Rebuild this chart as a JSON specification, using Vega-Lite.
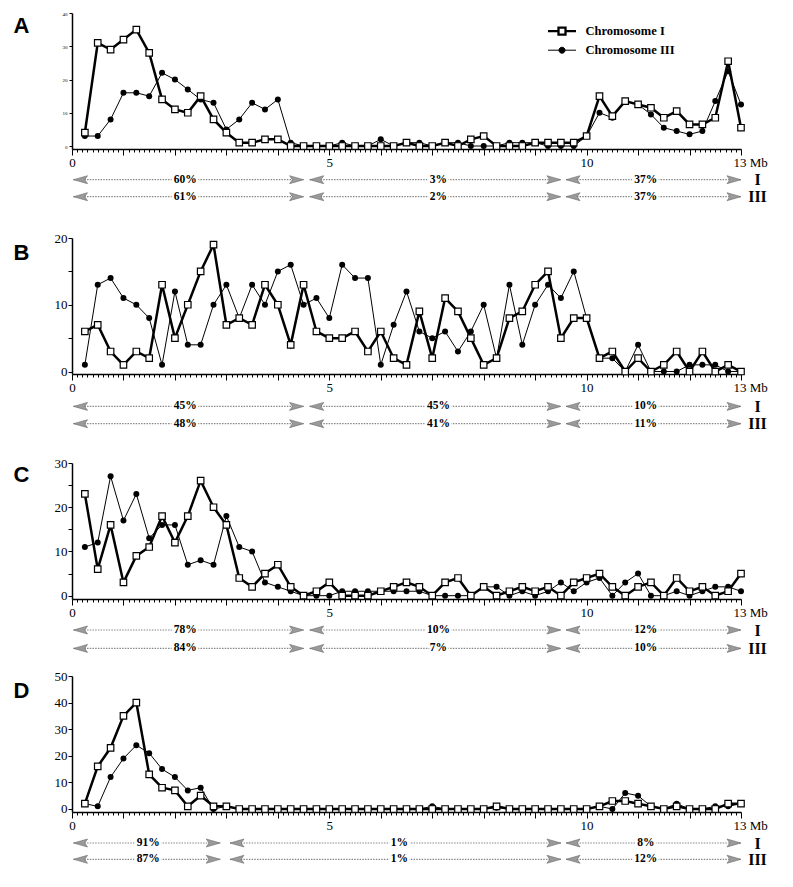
{
"$schema":"https://vega.github.io/schema/vega-lite/v6.json",
"background":"white",
"padding":{"left":13,"top":11,"right":5,"bottom":5},
"spacing":13,
"config":{"view":{"stroke":null},"axis":{"domainColor":"black","domainWidth":1.5,"tickColor":"black","labelColor":"black","grid":false,"labelFont":"Liberation Serif","titleColor":"black"}},
"resolve":{"scale":{"shape":"independent","fill":"independent","strokeWidth":"independent"},"legend":{"shape":"independent","fill":"independent","strokeWidth":"independent"}},
"datasets":{
"A":[{"mb":0.25,"I":4,"III":3},{"mb":0.5,"I":31,"III":3},{"mb":0.75,"I":29,"III":8},{"mb":1,"I":32,"III":16},{"mb":1.25,"I":35,"III":16},{"mb":1.5,"I":28,"III":15},{"mb":1.75,"I":14,"III":22},{"mb":2,"I":11,"III":20},{"mb":2.25,"I":10,"III":17},{"mb":2.5,"I":15,"III":14},{"mb":2.75,"I":8,"III":13},{"mb":3,"I":4,"III":5},{"mb":3.25,"I":1,"III":8},{"mb":3.5,"I":1,"III":13},{"mb":3.75,"I":2,"III":11},{"mb":4,"I":2,"III":14},{"mb":4.25,"I":0,"III":1},{"mb":4.5,"I":0,"III":0},{"mb":4.75,"I":0,"III":0},{"mb":5,"I":0,"III":0},{"mb":5.25,"I":0,"III":1},{"mb":5.5,"I":0,"III":0},{"mb":5.75,"I":0,"III":0},{"mb":6,"I":0,"III":2},{"mb":6.25,"I":0,"III":0},{"mb":6.5,"I":1,"III":1},{"mb":6.75,"I":0,"III":1},{"mb":7,"I":0,"III":0},{"mb":7.25,"I":1,"III":1},{"mb":7.5,"I":0,"III":1},{"mb":7.75,"I":2,"III":0},{"mb":8,"I":3,"III":0},{"mb":8.25,"I":0,"III":0},{"mb":8.5,"I":0,"III":1},{"mb":8.75,"I":0,"III":1},{"mb":9,"I":1,"III":1},{"mb":9.25,"I":1,"III":0},{"mb":9.5,"I":1,"III":0},{"mb":9.75,"I":1,"III":0},{"mb":10,"I":3,"III":3},{"mb":10.25,"I":15,"III":10},{"mb":10.5,"I":9,"III":8.5},{"mb":10.75,"I":13.5,"III":13.5},{"mb":11,"I":12.5,"III":12.5},{"mb":11.25,"I":11.5,"III":9.5},{"mb":11.5,"I":8.5,"III":5.5},{"mb":11.75,"I":10.5,"III":4.5},{"mb":12,"I":6.5,"III":3.5},{"mb":12.25,"I":6.5,"III":4.5},{"mb":12.5,"I":8.5,"III":13.5},{"mb":12.75,"I":25.5,"III":22.5},{"mb":13,"I":5.5,"III":12.5}],
"B":[{"mb":0.25,"I":6,"III":1},{"mb":0.5,"I":7,"III":13},{"mb":0.75,"I":3,"III":14},{"mb":1,"I":1,"III":11},{"mb":1.25,"I":3,"III":10},{"mb":1.5,"I":2,"III":8},{"mb":1.75,"I":13,"III":1},{"mb":2,"I":5,"III":12},{"mb":2.25,"I":10,"III":4},{"mb":2.5,"I":15,"III":4},{"mb":2.75,"I":19,"III":10},{"mb":3,"I":7,"III":13},{"mb":3.25,"I":8,"III":8},{"mb":3.5,"I":7,"III":13},{"mb":3.75,"I":13,"III":10},{"mb":4,"I":10,"III":15},{"mb":4.25,"I":4,"III":16},{"mb":4.5,"I":13,"III":10},{"mb":4.75,"I":6,"III":11},{"mb":5,"I":5,"III":8},{"mb":5.25,"I":5,"III":16},{"mb":5.5,"I":6,"III":14},{"mb":5.75,"I":3,"III":14},{"mb":6,"I":6,"III":1},{"mb":6.25,"I":2,"III":7},{"mb":6.5,"I":1,"III":12},{"mb":6.75,"I":9,"III":6},{"mb":7,"I":2,"III":5},{"mb":7.25,"I":11,"III":6},{"mb":7.5,"I":9,"III":3},{"mb":7.75,"I":5,"III":6},{"mb":8,"I":1,"III":10},{"mb":8.25,"I":2,"III":2},{"mb":8.5,"I":8,"III":13},{"mb":8.75,"I":9,"III":4},{"mb":9,"I":13,"III":10},{"mb":9.25,"I":15,"III":13},{"mb":9.5,"I":5,"III":11},{"mb":9.75,"I":8,"III":15},{"mb":10,"I":8,"III":8},{"mb":10.25,"I":2,"III":2},{"mb":10.5,"I":3,"III":2},{"mb":10.75,"I":0,"III":0},{"mb":11,"I":2,"III":4},{"mb":11.25,"I":0,"III":0},{"mb":11.5,"I":1,"III":0},{"mb":11.75,"I":3,"III":0},{"mb":12,"I":0,"III":1},{"mb":12.25,"I":3,"III":1},{"mb":12.5,"I":0,"III":1},{"mb":12.75,"I":1,"III":0},{"mb":13,"I":0,"III":0}],
"C":[{"mb":0.25,"I":23,"III":11},{"mb":0.5,"I":6,"III":12},{"mb":0.75,"I":16,"III":27},{"mb":1,"I":3,"III":17},{"mb":1.25,"I":9,"III":23},{"mb":1.5,"I":11,"III":13},{"mb":1.75,"I":18,"III":16},{"mb":2,"I":12,"III":16},{"mb":2.25,"I":18,"III":7},{"mb":2.5,"I":26,"III":8},{"mb":2.75,"I":20,"III":7},{"mb":3,"I":16,"III":18},{"mb":3.25,"I":4,"III":11},{"mb":3.5,"I":2,"III":10},{"mb":3.75,"I":5,"III":3},{"mb":4,"I":7,"III":2},{"mb":4.25,"I":2,"III":1},{"mb":4.5,"I":0,"III":0},{"mb":4.75,"I":1,"III":0},{"mb":5,"I":3,"III":0},{"mb":5.25,"I":0,"III":1},{"mb":5.5,"I":0,"III":1},{"mb":5.75,"I":0,"III":1},{"mb":6,"I":1,"III":1},{"mb":6.25,"I":2,"III":1},{"mb":6.5,"I":3,"III":1},{"mb":6.75,"I":2,"III":1},{"mb":7,"I":0,"III":0},{"mb":7.25,"I":3,"III":0},{"mb":7.5,"I":4,"III":0},{"mb":7.75,"I":0,"III":0},{"mb":8,"I":2,"III":2},{"mb":8.25,"I":0,"III":2},{"mb":8.5,"I":1,"III":0},{"mb":8.75,"I":2,"III":1},{"mb":9,"I":1,"III":0},{"mb":9.25,"I":2,"III":1},{"mb":9.5,"I":0,"III":3},{"mb":9.75,"I":3,"III":1},{"mb":10,"I":4,"III":3},{"mb":10.25,"I":5,"III":4},{"mb":10.5,"I":2,"III":0},{"mb":10.75,"I":0,"III":3},{"mb":11,"I":2,"III":5},{"mb":11.25,"I":3,"III":0},{"mb":11.5,"I":0,"III":0},{"mb":11.75,"I":4,"III":1},{"mb":12,"I":1,"III":0},{"mb":12.25,"I":2,"III":1},{"mb":12.5,"I":0,"III":2},{"mb":12.75,"I":1,"III":2},{"mb":13,"I":5,"III":1}],
"D":[{"mb":0.25,"I":2,"III":2},{"mb":0.5,"I":16,"III":1},{"mb":0.75,"I":23,"III":12},{"mb":1,"I":35,"III":19},{"mb":1.25,"I":40,"III":24},{"mb":1.5,"I":13,"III":21},{"mb":1.75,"I":8,"III":15},{"mb":2,"I":7,"III":12},{"mb":2.25,"I":1,"III":7},{"mb":2.5,"I":5,"III":8},{"mb":2.75,"I":1,"III":0},{"mb":3,"I":1,"III":1},{"mb":3.25,"I":0,"III":0},{"mb":3.5,"I":0,"III":0},{"mb":3.75,"I":0,"III":0},{"mb":4,"I":0,"III":0},{"mb":4.25,"I":0,"III":0},{"mb":4.5,"I":0,"III":0},{"mb":4.75,"I":0,"III":0},{"mb":5,"I":0,"III":0},{"mb":5.25,"I":0,"III":0},{"mb":5.5,"I":0,"III":0},{"mb":5.75,"I":0,"III":0},{"mb":6,"I":0,"III":0},{"mb":6.25,"I":0,"III":0},{"mb":6.5,"I":0,"III":0},{"mb":6.75,"I":0,"III":0},{"mb":7,"I":0,"III":1},{"mb":7.25,"I":0,"III":0},{"mb":7.5,"I":0,"III":0},{"mb":7.75,"I":0,"III":0},{"mb":8,"I":0,"III":0},{"mb":8.25,"I":1,"III":0.5},{"mb":8.5,"I":0,"III":0},{"mb":8.75,"I":0,"III":0},{"mb":9,"I":0,"III":0},{"mb":9.25,"I":0,"III":0},{"mb":9.5,"I":0,"III":0},{"mb":9.75,"I":0,"III":0},{"mb":10,"I":0,"III":0},{"mb":10.25,"I":1,"III":1},{"mb":10.5,"I":3,"III":0},{"mb":10.75,"I":3,"III":6},{"mb":11,"I":2,"III":5},{"mb":11.25,"I":1,"III":1},{"mb":11.5,"I":0,"III":0},{"mb":11.75,"I":1,"III":2},{"mb":12,"I":0,"III":0},{"mb":12.25,"I":0,"III":0},{"mb":12.5,"I":0,"III":1},{"mb":12.75,"I":2,"III":1},{"mb":13,"I":2,"III":2}],
"arrows":[
{"panel":"A","row":"I","start":0.03,"end":4.5,"mid":2.2,"pct":"60%"},{"panel":"A","row":"I","start":4.62,"end":9.5,"mid":7.12,"pct":"3%"},{"panel":"A","row":"I","start":9.6,"end":13,"mid":11.15,"pct":"37%"},
{"panel":"A","row":"III","start":0.03,"end":4.5,"mid":2.2,"pct":"61%"},{"panel":"A","row":"III","start":4.62,"end":9.5,"mid":7.12,"pct":"2%"},{"panel":"A","row":"III","start":9.6,"end":13,"mid":11.15,"pct":"37%"},
{"panel":"B","row":"I","start":0.03,"end":4.5,"mid":2.2,"pct":"45%"},{"panel":"B","row":"I","start":4.62,"end":9.5,"mid":7.12,"pct":"45%"},{"panel":"B","row":"I","start":9.6,"end":13,"mid":11.15,"pct":"10%"},
{"panel":"B","row":"III","start":0.03,"end":4.5,"mid":2.2,"pct":"48%"},{"panel":"B","row":"III","start":4.62,"end":9.5,"mid":7.12,"pct":"41%"},{"panel":"B","row":"III","start":9.6,"end":13,"mid":11.15,"pct":"11%"},
{"panel":"C","row":"I","start":0.03,"end":4.5,"mid":2.2,"pct":"78%"},{"panel":"C","row":"I","start":4.62,"end":9.5,"mid":7.12,"pct":"10%"},{"panel":"C","row":"I","start":9.6,"end":13,"mid":11.15,"pct":"12%"},
{"panel":"C","row":"III","start":0.03,"end":4.5,"mid":2.2,"pct":"84%"},{"panel":"C","row":"III","start":4.62,"end":9.5,"mid":7.12,"pct":"7%"},{"panel":"C","row":"III","start":9.6,"end":13,"mid":11.15,"pct":"10%"},
{"panel":"D","row":"I","start":0.03,"end":2.88,"mid":1.48,"pct":"91%"},{"panel":"D","row":"I","start":3.07,"end":9.5,"mid":6.36,"pct":"1%"},{"panel":"D","row":"I","start":9.6,"end":13,"mid":11.15,"pct":"8%"},
{"panel":"D","row":"III","start":0.03,"end":2.88,"mid":1.48,"pct":"87%"},{"panel":"D","row":"III","start":3.07,"end":9.5,"mid":6.36,"pct":"1%"},{"panel":"D","row":"III","start":9.6,"end":13,"mid":11.15,"pct":"12%"}
]
},
"vconcat":[
{"spacing":0,
"resolve":{"scale":{"shape":"independent","fill":"independent","strokeWidth":"independent"},"legend":{"shape":"independent","fill":"independent","strokeWidth":"independent"}},
"vconcat":[
{
"width":669,"height":136,
"encoding":{
"x":{"field":"mb","type":"quantitative","scale":{"domain":[0,13],"nice":false,"zero":false},"axis":{"title":null,"domain":true,"domainColor":"black","domainWidth":1.5,"ticks":true,"tickColor":"black","tickWidth":1,"labelColor":"black","values":[0,0.1,0.2,0.3,0.4,0.5,0.6,0.7,0.8,0.9,1,1.1,1.2,1.3,1.4,1.5,1.6,1.7,1.8,1.9,2,2.1,2.2,2.3,2.4,2.5,2.6,2.7,2.8,2.9,3,3.1,3.2,3.3,3.4,3.5,3.6,3.7,3.8,3.9,4,4.1,4.2,4.3,4.4,4.5,4.6,4.7,4.8,4.9,5,5.1,5.2,5.3,5.4,5.5,5.6,5.7,5.8,5.9,6,6.1,6.2,6.3,6.4,6.5,6.6,6.7,6.8,6.9,7,7.1,7.2,7.3,7.4,7.5,7.6,7.7,7.8,7.9,8,8.1,8.2,8.3,8.4,8.5,8.6,8.7,8.8,8.9,9,9.1,9.2,9.3,9.4,9.5,9.6,9.7,9.8,9.9,10,10.1,10.2,10.3,10.4,10.5,10.6,10.7,10.8,10.9,11,11.1,11.2,11.3,11.4,11.5,11.6,11.7,11.8,11.9,12,12.1,12.2,12.3,12.4,12.5,12.6,12.7,12.8,12.9,13],"labelExpr":"datum.value == 13 ? '13 Mb' : datum.value == 0 ? '0' : datum.value == 5 ? '5' : datum.value == 10 ? '10' : ''","labelFontSize":13,"labelFlush":false,"labelOverlap":false,"labelPadding":1.5,"labelAlign":{"condition":{"test":"datum.value == 13","value":"left"},"value":"center"},"labelOffset":{"condition":{"test":"datum.value == 13","value":-8},"value":0},"tickSize":{"condition":{"test":"datum.value % 1 == 0","value":6},"value":3}}},
"y":{"field":"value","type":"quantitative","scale":{"domain":[-0.9,40],"nice":false,"zero":false},"axis":{"domain":true,"domainColor":"black","domainWidth":1.5,"ticks":true,"tickColor":"black","labelColor":"black","values":[0,10,20,30,40],"labelFontSize":5,"tickSize":3,"labelPadding":2,"title":"A","titleAngle":0,"titleFont":"Liberation Sans","titleFontWeight":"bold","titleFontSize":22,"titleAlign":"left","titleBaseline":"alphabetic","titleX":-59,"titleY":19}}
},
"layer":[
{"data":{"name":"A"},"transform":[{"fold":["I","III"],"as":["chrom","value"]},{"filter":"datum.chrom == 'III'"}],"mark":{"type":"line","color":"black","strokeWidth":1},"encoding":{}},
{"data":{"name":"A"},"transform":[{"fold":["I","III"],"as":["chrom","value"]},{"filter":"datum.chrom == 'III'"}],"mark":{"type":"point","shape":"circle","filled":true,"color":"black","size":36,"opacity":1},"encoding":{}},
{"data":{"name":"A"},"transform":[{"fold":["I","III"],"as":["chrom","value"]},{"filter":"datum.chrom == 'I'"}],"mark":{"type":"line","color":"black","strokeWidth":2.5},"encoding":{}},
{"data":{"name":"A"},"transform":[{"fold":["I","III"],"as":["chrom","value"]},{"filter":"datum.chrom == 'I'"}],"mark":{"type":"point","shape":"square","filled":true,"fill":"white","stroke":"black","strokeWidth":1.2,"size":42,"opacity":1},"encoding":{}},
{"data":{"values":[{"s":"Chromosome I"},{"s":"Chromosome III"}]},"mark":{"type":"point","opacity":0,"stroke":"black"},
"encoding":{
"x":{"value":0},"y":{"value":0},
"shape":{"field":"s","type":"nominal","scale":{"domain":["Chromosome I","Chromosome III"],"range":["M-2,0H-0.5M0.5,0H2M-0.5,-0.5H0.5V0.5H-0.5Z","M-2,0H2M-0.43,0A0.43,0.43,0,1,1,0.43,0A0.43,0.43,0,1,1,-0.43,0Z"]},"legend":{"title":null,"orient":"none","legendX":481.5,"legendY":9.7,"symbolSize":196,"symbolOpacity":1,"labelFont":"Liberation Serif","labelFontSize":12.5,"labelFontWeight":"bold","labelColor":"black","labelOffset":15,"rowPadding":3,"padding":0,"labelLimit":300}},
"fill":{"field":"s","type":"nominal","scale":{"domain":["Chromosome I","Chromosome III"],"range":["white","black"]},"legend":{"title":null,"orient":"none","legendX":481.5,"legendY":9.7,"symbolSize":196,"symbolOpacity":1,"labelFont":"Liberation Serif","labelFontSize":12.5,"labelFontWeight":"bold","labelColor":"black","labelOffset":15,"rowPadding":3,"padding":0,"labelLimit":300}},
"strokeWidth":{"field":"s","type":"ordinal","scale":{"domain":["Chromosome I","Chromosome III"],"range":[2.3,1]},"legend":{"title":null,"orient":"none","legendX":481.5,"legendY":9.7,"symbolSize":196,"symbolOpacity":1,"labelFont":"Liberation Serif","labelFontSize":12.5,"labelFontWeight":"bold","labelColor":"black","labelOffset":15,"rowPadding":3,"padding":0,"labelLimit":300}}
}}
]
},
{
"width":669,"height":48.5,
"data":{"name":"arrows"},
"transform":[{"filter":"datum.panel == 'A'"}],
"encoding":{"y":{"field":"row","type":"nominal","scale":{"type":"point","domain":["I","III"],"padding":0.926,"align":0.308},"axis":{"orient":"right","domain":false,"ticks":false,"labelColor":"black","labelFont":"Liberation Serif","labelFontWeight":"bold","labelFontSize":16,"labelAlign":"center","labelPadding":16,"title":null}}},
"layer":[
{"mark":{"type":"rule","color":"#888888","strokeDash":[1.5,1.2],"strokeWidth":1.2},"encoding":{"x":{"field":"start","type":"quantitative","scale":{"domain":[0,13],"nice":false,"zero":false},"axis":null},"x2":{"field":"end"}}},
{"mark":{"type":"point","shape":"M0,0L2,-0.57L1.6,0L2,0.57Z","filled":true,"fill":"#9a9a9a","stroke":"#6a6a6a","strokeWidth":0.6,"size":196,"opacity":1},"encoding":{"x":{"field":"start","type":"quantitative","axis":null}}},
{"mark":{"type":"point","shape":"M0,0L-2,-0.57L-1.6,0L-2,0.57Z","filled":true,"fill":"#9a9a9a","stroke":"#6a6a6a","strokeWidth":0.6,"size":196,"opacity":1},"encoding":{"x":{"field":"end","type":"quantitative","axis":null}}},
{"mark":{"type":"text","font":"Liberation Serif","fontWeight":"bold","fontSize":11.5,"fill":"white","stroke":"white","strokeWidth":5},"encoding":{"x":{"field":"mid","type":"quantitative","axis":null},"text":{"field":"pct"}}},
{"mark":{"type":"text","font":"Liberation Serif","fontWeight":"bold","fontSize":11.5,"color":"black"},"encoding":{"x":{"field":"mid","type":"quantitative","axis":null},"text":{"field":"pct"}}}
]
}
]},
{"spacing":0,
"vconcat":[
{
"width":669,"height":136,
"encoding":{
"x":{"field":"mb","type":"quantitative","scale":{"domain":[0,13],"nice":false,"zero":false},"axis":{"title":null,"domain":true,"domainColor":"black","domainWidth":1.5,"ticks":true,"tickColor":"black","tickWidth":1,"labelColor":"black","values":[0,0.1,0.2,0.3,0.4,0.5,0.6,0.7,0.8,0.9,1,1.1,1.2,1.3,1.4,1.5,1.6,1.7,1.8,1.9,2,2.1,2.2,2.3,2.4,2.5,2.6,2.7,2.8,2.9,3,3.1,3.2,3.3,3.4,3.5,3.6,3.7,3.8,3.9,4,4.1,4.2,4.3,4.4,4.5,4.6,4.7,4.8,4.9,5,5.1,5.2,5.3,5.4,5.5,5.6,5.7,5.8,5.9,6,6.1,6.2,6.3,6.4,6.5,6.6,6.7,6.8,6.9,7,7.1,7.2,7.3,7.4,7.5,7.6,7.7,7.8,7.9,8,8.1,8.2,8.3,8.4,8.5,8.6,8.7,8.8,8.9,9,9.1,9.2,9.3,9.4,9.5,9.6,9.7,9.8,9.9,10,10.1,10.2,10.3,10.4,10.5,10.6,10.7,10.8,10.9,11,11.1,11.2,11.3,11.4,11.5,11.6,11.7,11.8,11.9,12,12.1,12.2,12.3,12.4,12.5,12.6,12.7,12.8,12.9,13],"labelExpr":"datum.value == 13 ? '13 Mb' : datum.value == 0 ? '0' : datum.value == 5 ? '5' : datum.value == 10 ? '10' : ''","labelFontSize":13,"labelFlush":false,"labelOverlap":false,"labelPadding":1.5,"labelAlign":{"condition":{"test":"datum.value == 13","value":"left"},"value":"center"},"labelOffset":{"condition":{"test":"datum.value == 13","value":-8},"value":0},"tickSize":{"condition":{"test":"datum.value % 1 == 0","value":6},"value":3}}},
"y":{"field":"value","type":"quantitative","scale":{"domain":[-0.37,20],"nice":false,"zero":false},"axis":{"domain":true,"domainColor":"black","domainWidth":1.5,"ticks":true,"tickColor":"black","labelColor":"black","values":[0,5,10,15,20],"labelExpr":"datum.value % 10 == 0 ? datum.label : ''","labelFontSize":13,"tickSize":4,"labelPadding":1,"title":"B","titleAngle":0,"titleFont":"Liberation Sans","titleFontWeight":"bold","titleFontSize":22,"titleAlign":"left","titleBaseline":"alphabetic","titleX":-59,"titleY":21}}
},
"layer":[
{"data":{"name":"B"},"transform":[{"fold":["I","III"],"as":["chrom","value"]},{"filter":"datum.chrom == 'III'"}],"mark":{"type":"line","color":"black","strokeWidth":1},"encoding":{}},
{"data":{"name":"B"},"transform":[{"fold":["I","III"],"as":["chrom","value"]},{"filter":"datum.chrom == 'III'"}],"mark":{"type":"point","shape":"circle","filled":true,"color":"black","size":36,"opacity":1},"encoding":{}},
{"data":{"name":"B"},"transform":[{"fold":["I","III"],"as":["chrom","value"]},{"filter":"datum.chrom == 'I'"}],"mark":{"type":"line","color":"black","strokeWidth":2.5},"encoding":{}},
{"data":{"name":"B"},"transform":[{"fold":["I","III"],"as":["chrom","value"]},{"filter":"datum.chrom == 'I'"}],"mark":{"type":"point","shape":"square","filled":true,"fill":"white","stroke":"black","strokeWidth":1.2,"size":42,"opacity":1},"encoding":{}}
]
},
{
"width":669,"height":48.5,
"data":{"name":"arrows"},
"transform":[{"filter":"datum.panel == 'B'"}],
"encoding":{"y":{"field":"row","type":"nominal","scale":{"type":"point","domain":["I","III"],"padding":0.902,"align":0.365},"axis":{"orient":"right","domain":false,"ticks":false,"labelColor":"black","labelFont":"Liberation Serif","labelFontWeight":"bold","labelFontSize":16,"labelAlign":"center","labelPadding":16,"title":null}}},
"layer":[
{"mark":{"type":"rule","color":"#888888","strokeDash":[1.5,1.2],"strokeWidth":1.2},"encoding":{"x":{"field":"start","type":"quantitative","scale":{"domain":[0,13],"nice":false,"zero":false},"axis":null},"x2":{"field":"end"}}},
{"mark":{"type":"point","shape":"M0,0L2,-0.57L1.6,0L2,0.57Z","filled":true,"fill":"#9a9a9a","stroke":"#6a6a6a","strokeWidth":0.6,"size":196,"opacity":1},"encoding":{"x":{"field":"start","type":"quantitative","axis":null}}},
{"mark":{"type":"point","shape":"M0,0L-2,-0.57L-1.6,0L-2,0.57Z","filled":true,"fill":"#9a9a9a","stroke":"#6a6a6a","strokeWidth":0.6,"size":196,"opacity":1},"encoding":{"x":{"field":"end","type":"quantitative","axis":null}}},
{"mark":{"type":"text","font":"Liberation Serif","fontWeight":"bold","fontSize":11.5,"fill":"white","stroke":"white","strokeWidth":5},"encoding":{"x":{"field":"mid","type":"quantitative","axis":null},"text":{"field":"pct"}}},
{"mark":{"type":"text","font":"Liberation Serif","fontWeight":"bold","fontSize":11.5,"color":"black"},"encoding":{"x":{"field":"mid","type":"quantitative","axis":null},"text":{"field":"pct"}}}
]
}
]},
{"spacing":0,
"vconcat":[
{
"width":669,"height":136,
"encoding":{
"x":{"field":"mb","type":"quantitative","scale":{"domain":[0,13],"nice":false,"zero":false},"axis":{"title":null,"domain":true,"domainColor":"black","domainWidth":1.5,"ticks":true,"tickColor":"black","tickWidth":1,"labelColor":"black","values":[0,0.1,0.2,0.3,0.4,0.5,0.6,0.7,0.8,0.9,1,1.1,1.2,1.3,1.4,1.5,1.6,1.7,1.8,1.9,2,2.1,2.2,2.3,2.4,2.5,2.6,2.7,2.8,2.9,3,3.1,3.2,3.3,3.4,3.5,3.6,3.7,3.8,3.9,4,4.1,4.2,4.3,4.4,4.5,4.6,4.7,4.8,4.9,5,5.1,5.2,5.3,5.4,5.5,5.6,5.7,5.8,5.9,6,6.1,6.2,6.3,6.4,6.5,6.6,6.7,6.8,6.9,7,7.1,7.2,7.3,7.4,7.5,7.6,7.7,7.8,7.9,8,8.1,8.2,8.3,8.4,8.5,8.6,8.7,8.8,8.9,9,9.1,9.2,9.3,9.4,9.5,9.6,9.7,9.8,9.9,10,10.1,10.2,10.3,10.4,10.5,10.6,10.7,10.8,10.9,11,11.1,11.2,11.3,11.4,11.5,11.6,11.7,11.8,11.9,12,12.1,12.2,12.3,12.4,12.5,12.6,12.7,12.8,12.9,13],"labelExpr":"datum.value == 13 ? '13 Mb' : datum.value == 0 ? '0' : datum.value == 5 ? '5' : datum.value == 10 ? '10' : ''","labelFontSize":13,"labelFlush":false,"labelOverlap":false,"labelPadding":1.5,"labelAlign":{"condition":{"test":"datum.value == 13","value":"left"},"value":"center"},"labelOffset":{"condition":{"test":"datum.value == 13","value":-8},"value":0},"tickSize":{"condition":{"test":"datum.value % 1 == 0","value":6},"value":3}}},
"y":{"field":"value","type":"quantitative","scale":{"domain":[-0.75,30],"nice":false,"zero":false},"axis":{"domain":true,"domainColor":"black","domainWidth":1.5,"ticks":true,"tickColor":"black","labelColor":"black","values":[0,5,10,15,20,25,30],"labelExpr":"datum.value % 10 == 0 ? datum.label : ''","labelFontSize":13,"tickSize":4,"labelPadding":1,"title":"C","titleAngle":0,"titleFont":"Liberation Sans","titleFontWeight":"bold","titleFontSize":22,"titleAlign":"left","titleBaseline":"alphabetic","titleX":-59,"titleY":18}}
},
"layer":[
{"data":{"name":"C"},"transform":[{"fold":["I","III"],"as":["chrom","value"]},{"filter":"datum.chrom == 'III'"}],"mark":{"type":"line","color":"black","strokeWidth":1},"encoding":{}},
{"data":{"name":"C"},"transform":[{"fold":["I","III"],"as":["chrom","value"]},{"filter":"datum.chrom == 'III'"}],"mark":{"type":"point","shape":"circle","filled":true,"color":"black","size":36,"opacity":1},"encoding":{}},
{"data":{"name":"C"},"transform":[{"fold":["I","III"],"as":["chrom","value"]},{"filter":"datum.chrom == 'I'"}],"mark":{"type":"line","color":"black","strokeWidth":2.5},"encoding":{}},
{"data":{"name":"C"},"transform":[{"fold":["I","III"],"as":["chrom","value"]},{"filter":"datum.chrom == 'I'"}],"mark":{"type":"point","shape":"square","filled":true,"fill":"white","stroke":"black","strokeWidth":1.2,"size":42,"opacity":1},"encoding":{}}
]
},
{
"width":669,"height":36.3,
"data":{"name":"arrows"},
"transform":[{"filter":"datum.panel == 'C'"}],
"encoding":{"y":{"field":"row","type":"nominal","scale":{"type":"point","domain":["I","III"],"padding":0.486,"align":0.559},"axis":{"orient":"right","domain":false,"ticks":false,"labelColor":"black","labelFont":"Liberation Serif","labelFontWeight":"bold","labelFontSize":16,"labelAlign":"center","labelPadding":16,"title":null}}},
"layer":[
{"mark":{"type":"rule","color":"#888888","strokeDash":[1.5,1.2],"strokeWidth":1.2},"encoding":{"x":{"field":"start","type":"quantitative","scale":{"domain":[0,13],"nice":false,"zero":false},"axis":null},"x2":{"field":"end"}}},
{"mark":{"type":"point","shape":"M0,0L2,-0.57L1.6,0L2,0.57Z","filled":true,"fill":"#9a9a9a","stroke":"#6a6a6a","strokeWidth":0.6,"size":196,"opacity":1},"encoding":{"x":{"field":"start","type":"quantitative","axis":null}}},
{"mark":{"type":"point","shape":"M0,0L-2,-0.57L-1.6,0L-2,0.57Z","filled":true,"fill":"#9a9a9a","stroke":"#6a6a6a","strokeWidth":0.6,"size":196,"opacity":1},"encoding":{"x":{"field":"end","type":"quantitative","axis":null}}},
{"mark":{"type":"text","font":"Liberation Serif","fontWeight":"bold","fontSize":11.5,"fill":"white","stroke":"white","strokeWidth":5},"encoding":{"x":{"field":"mid","type":"quantitative","axis":null},"text":{"field":"pct"}}},
{"mark":{"type":"text","font":"Liberation Serif","fontWeight":"bold","fontSize":11.5,"color":"black"},"encoding":{"x":{"field":"mid","type":"quantitative","axis":null},"text":{"field":"pct"}}}
]
}
]},
{"spacing":0,
"vconcat":[
{
"width":669,"height":136,
"encoding":{
"x":{"field":"mb","type":"quantitative","scale":{"domain":[0,13],"nice":false,"zero":false},"axis":{"title":null,"domain":true,"domainColor":"black","domainWidth":1.5,"ticks":true,"tickColor":"black","tickWidth":1,"labelColor":"black","values":[0,0.1,0.2,0.3,0.4,0.5,0.6,0.7,0.8,0.9,1,1.1,1.2,1.3,1.4,1.5,1.6,1.7,1.8,1.9,2,2.1,2.2,2.3,2.4,2.5,2.6,2.7,2.8,2.9,3,3.1,3.2,3.3,3.4,3.5,3.6,3.7,3.8,3.9,4,4.1,4.2,4.3,4.4,4.5,4.6,4.7,4.8,4.9,5,5.1,5.2,5.3,5.4,5.5,5.6,5.7,5.8,5.9,6,6.1,6.2,6.3,6.4,6.5,6.6,6.7,6.8,6.9,7,7.1,7.2,7.3,7.4,7.5,7.6,7.7,7.8,7.9,8,8.1,8.2,8.3,8.4,8.5,8.6,8.7,8.8,8.9,9,9.1,9.2,9.3,9.4,9.5,9.6,9.7,9.8,9.9,10,10.1,10.2,10.3,10.4,10.5,10.6,10.7,10.8,10.9,11,11.1,11.2,11.3,11.4,11.5,11.6,11.7,11.8,11.9,12,12.1,12.2,12.3,12.4,12.5,12.6,12.7,12.8,12.9,13],"labelExpr":"datum.value == 13 ? '13 Mb' : datum.value == 0 ? '0' : datum.value == 5 ? '5' : datum.value == 10 ? '10' : ''","labelFontSize":13,"labelFlush":false,"labelOverlap":false,"labelPadding":1.5,"labelAlign":{"condition":{"test":"datum.value == 13","value":"left"},"value":"center"},"labelOffset":{"condition":{"test":"datum.value == 13","value":-8},"value":0},"tickSize":{"condition":{"test":"datum.value % 1 == 0","value":6},"value":3}}},
"y":{"field":"value","type":"quantitative","scale":{"domain":[-1.13,50],"nice":false,"zero":false},"axis":{"domain":true,"domainColor":"black","domainWidth":1.5,"ticks":true,"tickColor":"black","labelColor":"black","values":[0,10,20,30,40,50],"labelFontSize":13,"tickSize":4,"labelPadding":1,"title":"D","titleAngle":0,"titleFont":"Liberation Sans","titleFontWeight":"bold","titleFontSize":22,"titleAlign":"left","titleBaseline":"alphabetic","titleX":-59,"titleY":21}}
},
"layer":[
{"data":{"name":"D"},"transform":[{"fold":["I","III"],"as":["chrom","value"]},{"filter":"datum.chrom == 'III'"}],"mark":{"type":"line","color":"black","strokeWidth":1},"encoding":{}},
{"data":{"name":"D"},"transform":[{"fold":["I","III"],"as":["chrom","value"]},{"filter":"datum.chrom == 'III'"}],"mark":{"type":"point","shape":"circle","filled":true,"color":"black","size":36,"opacity":1},"encoding":{}},
{"data":{"name":"D"},"transform":[{"fold":["I","III"],"as":["chrom","value"]},{"filter":"datum.chrom == 'I'"}],"mark":{"type":"line","color":"black","strokeWidth":2.5},"encoding":{}},
{"data":{"name":"D"},"transform":[{"fold":["I","III"],"as":["chrom","value"]},{"filter":"datum.chrom == 'I'"}],"mark":{"type":"point","shape":"square","filled":true,"fill":"white","stroke":"black","strokeWidth":1.2,"size":42,"opacity":1},"encoding":{}}
]
},
{
"width":669,"height":34,
"data":{"name":"arrows"},
"transform":[{"filter":"datum.panel == 'D'"}],
"encoding":{"y":{"field":"row","type":"nominal","scale":{"type":"point","domain":["I","III"],"padding":0.543,"align":0.565},"axis":{"orient":"right","domain":false,"ticks":false,"labelColor":"black","labelFont":"Liberation Serif","labelFontWeight":"bold","labelFontSize":16,"labelAlign":"center","labelPadding":16,"title":null}}},
"layer":[
{"mark":{"type":"rule","color":"#888888","strokeDash":[1.5,1.2],"strokeWidth":1.2},"encoding":{"x":{"field":"start","type":"quantitative","scale":{"domain":[0,13],"nice":false,"zero":false},"axis":null},"x2":{"field":"end"}}},
{"mark":{"type":"point","shape":"M0,0L2,-0.57L1.6,0L2,0.57Z","filled":true,"fill":"#9a9a9a","stroke":"#6a6a6a","strokeWidth":0.6,"size":196,"opacity":1},"encoding":{"x":{"field":"start","type":"quantitative","axis":null}}},
{"mark":{"type":"point","shape":"M0,0L-2,-0.57L-1.6,0L-2,0.57Z","filled":true,"fill":"#9a9a9a","stroke":"#6a6a6a","strokeWidth":0.6,"size":196,"opacity":1},"encoding":{"x":{"field":"end","type":"quantitative","axis":null}}},
{"mark":{"type":"text","font":"Liberation Serif","fontWeight":"bold","fontSize":11.5,"fill":"white","stroke":"white","strokeWidth":5},"encoding":{"x":{"field":"mid","type":"quantitative","axis":null},"text":{"field":"pct"}}},
{"mark":{"type":"text","font":"Liberation Serif","fontWeight":"bold","fontSize":11.5,"color":"black"},"encoding":{"x":{"field":"mid","type":"quantitative","axis":null},"text":{"field":"pct"}}}
]
}
]}
]
}
